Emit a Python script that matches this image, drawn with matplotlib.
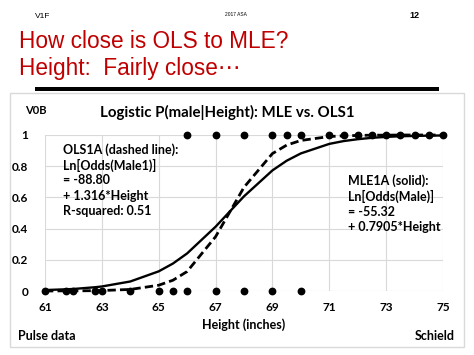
import matplotlib
matplotlib.use("Agg")
import matplotlib.pyplot as plt
from matplotlib.patches import Rectangle

W, H = 474, 355

# observed heights: females (0) and males (1)
female_heights = [61, 61.75, 62, 62.75, 63, 64, 65, 65.5, 66, 67, 68, 69, 70]
male_heights = [66, 67, 68, 69, 69.5, 70, 71, 71.5, 72, 72.5, 73, 73.5, 74, 74.5, 75]

# fitted curves at the data heights
curve_heights = [61, 61.75, 62, 62.75, 63, 64, 65, 65.5, 66, 67, 68, 69, 69.5,
                 70, 71, 71.5, 72, 72.5, 73, 73.5, 74, 74.5, 75]
mle_p = [0.006, 0.011, 0.013, 0.024, 0.029, 0.061, 0.126, 0.176, 0.241, 0.412,
         0.607, 0.773, 0.835, 0.882, 0.943, 0.961, 0.973, 0.982, 0.988, 0.992,
         0.994, 0.996, 0.997]
ols_p = [0.000, 0.001, 0.001, 0.002, 0.003, 0.010, 0.037, 0.069, 0.125, 0.348,
         0.665, 0.881, 0.935, 0.965, 0.990, 0.995, 0.997, 0.999, 0.999, 1.0,
         1.0, 1.0, 1.0]

x_ticks = [61, 63, 65, 67, 69, 71, 73, 75]
y_ticks = [0, 0.2, 0.4, 0.6, 0.8, 1]
y_labels = ["0", "0.2", "0.4", "0.6", "0.8", "1"]


def px(x, y):
    return x / W, 1 - y / H


fig = plt.figure(figsize=(W / 100, H / 100), dpi=100)
fig.patch.set_facecolor("white")

cfont = "Lato"
red = "#C00000"

# slide header
fig.text(*px(35, 16), "V1F", fontsize=6, va="center", ha="left",
         family="Liberation Sans")
fig.text(*px(236, 14), "2017 ASA", fontsize=3.5, va="center", ha="center",
         family="Liberation Sans")
fig.text(*px(420, 16), "12", fontsize=6.5, va="center", ha="right",
         family="Liberation Sans", fontweight="bold")
fig.text(*px(19, 41), "How close is OLS to MLE?", fontsize=16.3, va="center",
         ha="left", color=red, family="Liberation Sans")
fig.text(*px(19, 68), "Height:  Fairly close\u22ef", fontsize=16.3, va="center",
         ha="left", color=red, family=["Liberation Sans", "DejaVu Sans"])

# black rule and chart frame
fig.patches.append(Rectangle(px(35, 90.7), (439 - 35) / W, 4 / H,
                             transform=fig.transFigure, facecolor="black",
                             edgecolor="none"))
fig.patches.append(Rectangle(px(10, 347), (464 - 10) / W, (347 - 93) / H,
                             transform=fig.transFigure, facecolor="none",
                             edgecolor="#D9D9D9", linewidth=1))

ax = fig.add_axes([45 / W, 1 - 291 / H, (443 - 45) / W, (291 - 135) / H])
ax.set_xlim(61, 75)
ax.set_ylim(0, 1)
ax.set_xticks(x_ticks)
ax.set_yticks(y_ticks)
ax.set_yticklabels(y_labels)
ax.grid(True, color="#D9D9D9", linewidth=0.8)
ax.set_axisbelow(True)
for s in ax.spines.values():
    s.set_visible(False)
ax.tick_params(length=0, labelsize=8.5)
ax.tick_params(axis="x", pad=8)
ax.tick_params(axis="y", pad=12)
for lab in ax.get_xticklabels() + ax.get_yticklabels():
    lab.set_fontfamily(cfont)
    lab.set_fontweight("bold")

ax.plot(curve_heights, mle_p, color="black", linewidth=1.7, clip_on=False)
ax.plot(curve_heights, ols_p, color="black", linewidth=2.0,
        linestyle=(0, (3.0, 1.5)), clip_on=False)
ax.plot(female_heights, [0] * len(female_heights), "o", color="black",
        markersize=4.6, clip_on=False)
ax.plot(male_heights, [1] * len(male_heights), "o", color="black",
        markersize=4.6, clip_on=False)

# chart texts
fig.text(*px(227, 112), "Logistic P(male|Height): MLE vs. OLS1", fontsize=10.8,
         fontweight="bold", family=cfont, ha="center", va="center")
fig.text(*px(25, 111), "V0B", fontsize=8, fontweight="bold", family=cfont,
         ha="left", va="center")
fig.text(*px(244, 325), "Height (inches)", fontsize=9, fontweight="bold",
         family=cfont, ha="center", va="center")
fig.text(*px(18, 336), "Pulse data", fontsize=9, fontweight="bold",
         family=cfont, ha="left", va="center")
fig.text(*px(455, 336), "Schield", fontsize=9, fontweight="bold",
         family=cfont, ha="right", va="center")

ols_lines = ["OLS1A (dashed line):", "Ln[Odds(Male1)]", "= -88.80",
             "+ 1.316*Height", "R-squared: 0.51"]
for i, t in enumerate(ols_lines):
    fig.text(*px(63, 150 + i * 15.2), t, fontsize=9, fontweight="bold",
             family=cfont, ha="left", va="center")

mle_lines = ["MLE1A (solid):", "Ln[Odds(Male)]", "= -55.32", "+ 0.7905*Height"]
for i, t in enumerate(mle_lines):
    fig.text(*px(348, 180.5 + i * 15.5), t, fontsize=9, fontweight="bold",
             family=cfont, ha="left", va="center")

fig.savefig("out.png", dpi=100)
